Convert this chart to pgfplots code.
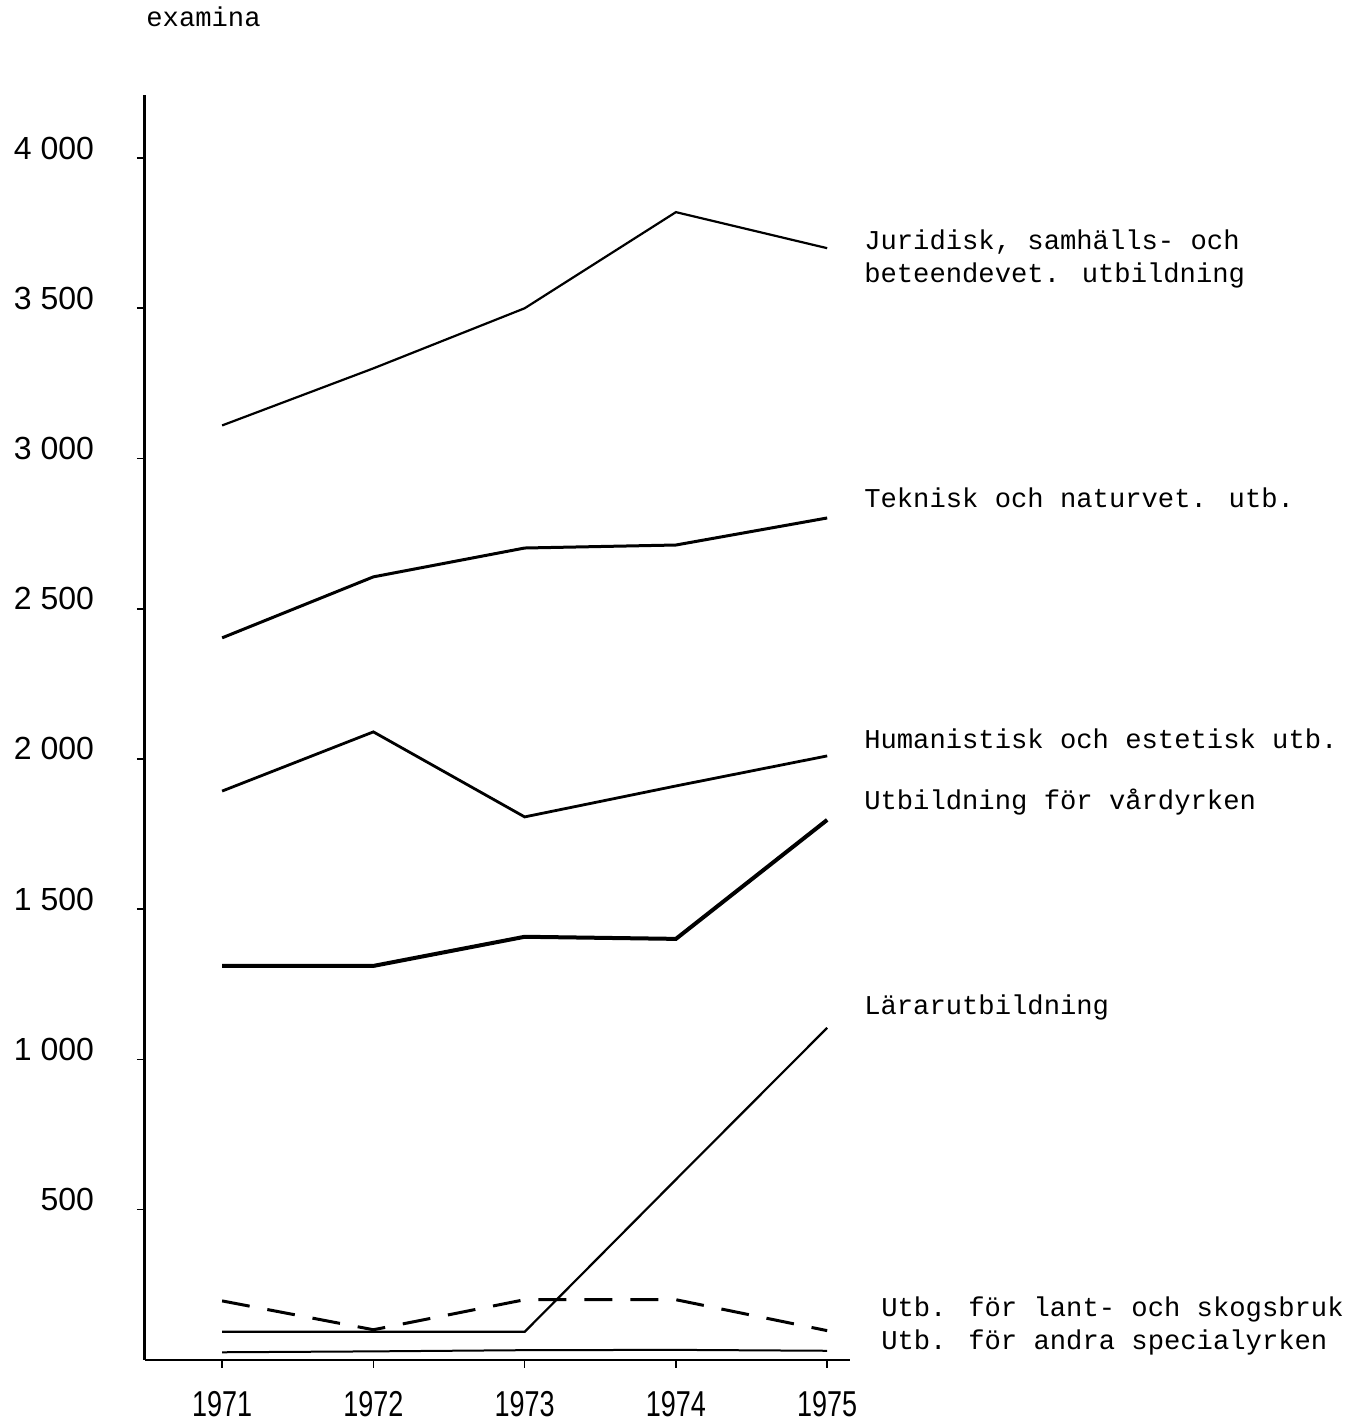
\documentclass[border=0pt]{standalone}
\usepackage{fontspec}
\setmainfont{Liberation Mono}
\newfontfamily\sansf{Liberation Sans}
\usepackage{pgfplots}
\pgfplotsset{compat=1.18}
\pgfplotstableread{
year jur tek hum vard larar lant spec
1971 3110 2403 1893 1311 93 196 25
1972 3300 2606 2090 1311 93 100 28
1973 3500 2702 1807 1408 93 200 32
1974 3820 2712 1910 1401 600 200 33
1975 3700 2802 2010 1797 1105 97 30
}\datatable
\begin{document}
\begin{tikzpicture}
\begin{axis}[
 scale only axis, width=352.5pt, height=632.5pt,
 xmin=1970.49, xmax=1975.15, ymin=0, ymax=4210,
 axis x line=bottom, axis y line=left,
 axis line style={-, black},
 x axis line style={line width=1pt},
 y axis line style={line width=1.5pt},
 xtick={1971,1972,1973,1974,1975},
 xticklabels={1971,1972,1973,1974,1975},
 ytick={500,1000,1500,2000,2500,3000,3500,4000},
 yticklabels={500,1~000,1~500,2~000,2~500,3~000,3~500,4~000},
 tick align=outside, major tick length=4pt,
 tick style={black, line width=0.8pt},
 xticklabel style={font=\sansf\fontsize{18}{20}\selectfont, xscale=0.75, yshift=-8.5pt},
 yticklabel style={font=\sansf\fontsize{16}{18}\selectfont, yshift=5pt, xshift=-18pt},
 clip=false,
]
\addplot[black, line width=1.1pt] table[x=year,y=jur] {\datatable};
\addplot[black, line width=1.5pt] table[x=year,y=tek] {\datatable};
\addplot[black, line width=1.4pt] table[x=year,y=hum] {\datatable};
\addplot[black, line width=2pt] table[x=year,y=vard] {\datatable};
\addplot[black, line width=1.1pt] table[x=year,y=larar] {\datatable};
\addplot[black, line width=1.5pt, dash pattern=on 14pt off 9pt] table[x=year,y=lant] {\datatable};
\addplot[black, line width=1pt] table[x=year,y=spec] {\datatable};
\coordinate (BL) at (rel axis cs:0,0);
\end{axis}
\begin{scope}[shift={(BL)}, x=0.5pt, y=-0.5pt, shift={(-145,-1360)}]
\path (0,0) rectangle (1359,1424);
\tikzset{lab/.style={anchor=west, inner sep=0pt, font=\fontsize{13.6}{16.5}\selectfont, align=left}}
\node[lab, anchor=base west] at (146,27) {examina};
\node[lab] at (864,259) {Juridisk, samhälls- och\\beteendevet. utbildning};
\node[lab] at (864,498) {Teknisk och naturvet. utb.};
\node[lab] at (864,739) {Humanistisk och estetisk utb.};
\node[lab] at (864,802) {Utbildning för vårdyrken};
\node[lab] at (864,1008) {Lärarutbildning};
\node[lab] at (881,1310) {Utb. för lant- och skogsbruk};
\node[lab] at (881,1343) {Utb. för andra specialyrken};
\end{scope}
\end{tikzpicture}
\end{document}
